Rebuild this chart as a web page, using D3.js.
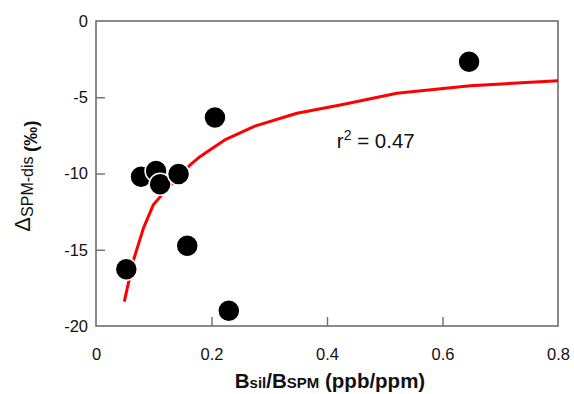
<!DOCTYPE html>
<html>
<head>
<meta charset="utf-8">
<script src="https://cdn.jsdelivr.net/npm/d3@7"></script>
<style>
  html, body { margin: 0; padding: 0; background: #fff; }
  svg { display: block; font-family: "Liberation Sans", Arial, sans-serif; }
</style>
</head>
<body>
<svg id="chart" width="574" height="394"></svg>
<script>
// ---- data ----
const ratioX = [0.646, 0.206, 0.078, 0.104, 0.111, 0.143, 0.158, 0.0525, 0.230];
const deltaY = [-2.67, -6.32, -10.21, -9.84, -10.71, -10.03, -14.73, -16.28, -19.0];

const fitX = [0.049, 0.065, 0.082, 0.099, 0.114, 0.14, 0.163, 0.18, 0.197, 0.223, 0.275, 0.348, 0.423, 0.521, 0.648, 0.80];
const fitY = [-18.4, -15.67, -13.6, -12.07, -11.4, -10.3, -9.44, -8.9, -8.46, -7.8, -6.89, -6.05, -5.51, -4.74, -4.24, -3.91];

const xTicks = [0, 0.2, 0.4, 0.6, 0.8];
const xTickLabels = ["0", "0.2", "0.4", "0.6", "0.8"];
const yTicks = [0, -5, -10, -15, -20];
const yTickLabels = ["0", "-5", "-10", "-15", "-20"];

const r2Label = { x: 0.417, y: -8.33, value: "0.47" };

// ---- layout ----
const svg = d3.select("#chart");
const L = 96, R = 558, T = 21, B = 326;

const x = d3.scaleLinear().domain([0, 0.8]).range([L, R]);
const y = d3.scaleLinear().domain([-20, 0]).range([B, T]);

const frameColor = "#6e6e6e";

// frame
svg.append("rect")
  .attr("x", L).attr("y", T).attr("width", R - L).attr("height", B - T)
  .attr("fill", "none").attr("stroke", frameColor).attr("stroke-width", 1.6);

// x axis ticks (inward) + labels
const xAxis = d3.axisBottom(x).tickValues(xTicks)
  .tickFormat((d, i) => xTickLabels[i]).tickSizeInner(-9).tickSizeOuter(0).tickPadding(22);
const gx = svg.append("g").attr("transform", `translate(0,${B})`).call(xAxis);
gx.select(".domain").remove();
gx.selectAll(".tick line").attr("stroke", frameColor).attr("stroke-width", 1.4)
  .filter(d => d === 0 || d === 0.8).remove();
gx.selectAll(".tick text").attr("font-size", 16.5).attr("fill", "#111")
  .attr("font-family", "Liberation Sans, Arial, sans-serif");

// y axis ticks (inward) + labels
const yAxis = d3.axisLeft(y).tickValues(yTicks)
  .tickFormat((d, i) => yTickLabels[i]).tickSizeInner(-9).tickSizeOuter(0).tickPadding(8);
const gy = svg.append("g").attr("transform", `translate(${L},0)`).call(yAxis);
gy.select(".domain").remove();
gy.selectAll(".tick line").attr("stroke", frameColor).attr("stroke-width", 1.4)
  .filter(d => d === 0 || d === -20).remove();
gy.selectAll(".tick text").attr("font-size", 16.5).attr("fill", "#111")
  .attr("font-family", "Liberation Sans, Arial, sans-serif");

// fit curve
const fitData = fitX.map((v, i) => [v, fitY[i]]);
svg.append("path")
  .datum(fitData)
  .attr("fill", "none")
  .attr("stroke", "#ff0000")
  .attr("stroke-width", 3)
  .attr("stroke-linejoin", "round")
  .attr("d", d3.line().x(d => x(d[0])).y(d => y(d[1])));

// points
const pts = ratioX.map((v, i) => [v, deltaY[i]]);
svg.append("g").selectAll("circle")
  .data(pts).join("circle")
  .attr("cx", d => x(d[0])).attr("cy", d => y(d[1]))
  .attr("r", 11)
  .attr("fill", "#000")
  .attr("stroke", "#fff").attr("stroke-width", 1.5);

// r^2 annotation
const rt = svg.append("text")
  .attr("x", x(r2Label.x)).attr("y", y(r2Label.y))
  .attr("font-size", 20.5).attr("fill", "#111");
rt.append("tspan").text("r");
rt.append("tspan").attr("font-size", 14).attr("dy", -8).text("2");
rt.append("tspan").attr("dy", 8).text(" = " + r2Label.value);

// x axis title
const xt = svg.append("text")
  .attr("x", 330).attr("y", 388)
  .attr("text-anchor", "middle").attr("font-weight", "bold")
  .attr("font-size", 20.5).attr("fill", "#111");
xt.append("tspan").text("B");
xt.append("tspan").attr("font-size", 15).text("sil");
xt.append("tspan").text("/B");
xt.append("tspan").attr("font-size", 15).text("SPM");
xt.append("tspan").text(" (ppb/ppm)");

// y axis title
const yt = svg.append("text")
  .attr("transform", `translate(37,176) rotate(-90)`)
  .attr("text-anchor", "middle").attr("font-size", 19).attr("fill", "#111");
yt.append("tspan").attr("font-size", 22).attr("dy", -7).text("Δ");
yt.append("tspan").attr("font-size", 16).attr("dy", 3).text("SPM-dis ");
yt.append("tspan").attr("font-weight", "bold").attr("dy", 4).text("(‰)");
</script>
</body>
</html>
